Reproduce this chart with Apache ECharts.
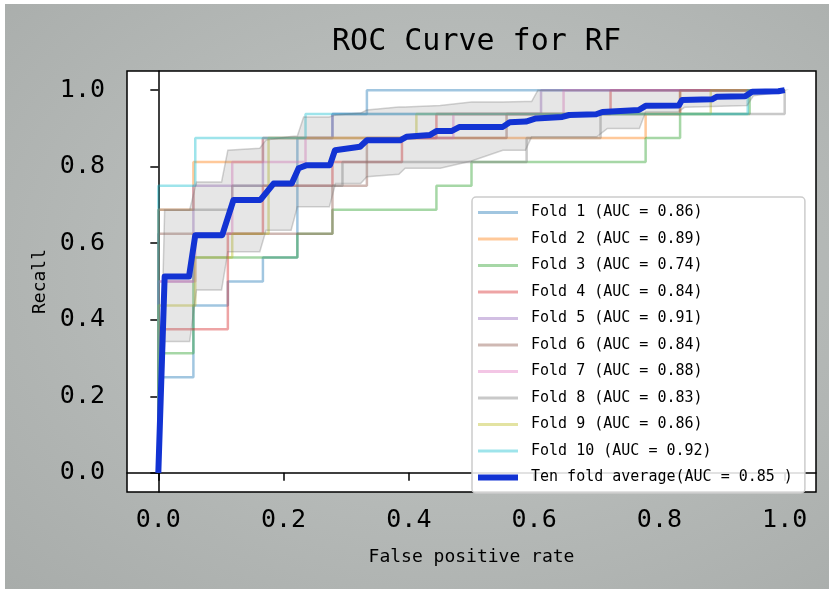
<!DOCTYPE html>
<html>
<head>
<meta charset="utf-8">
<script src="https://cdn.jsdelivr.net/npm/echarts@6/dist/echarts.min.js"></script>
<style>
  html, body { margin: 0; padding: 0; }
  #wrap {
    position: relative; width: 829px; height: 589px; box-sizing: border-box;
    border-top: 4px solid #fff; border-left: 5px solid #fff;
    background: radial-gradient(ellipse at 55% 45%, #c0c4c2 0%, #b6bab8 50%, #a8acaa 100%);
  }
  #chart { position: absolute; left: -5px; top: -4px; width: 829px; height: 589px; }
</style>
</head>
<body>
<div id="wrap"><div id="chart"></div></div>
<script>
// ROC corner points for each fold
const fold1Fpr = [0, 0, 0.056, 0.056, 0.111, 0.111, 0.167, 0.167, 0.222, 0.222, 0.278, 0.278, 0.333, 0.333, 1]
const fold1Tpr = [0, 0.25, 0.25, 0.4375, 0.4375, 0.5, 0.5, 0.5625, 0.5625, 0.875, 0.875, 0.9375, 0.9375, 1, 1]
const fold2Fpr = [0, 0, 0.056, 0.056, 0.167, 0.167, 0.778, 0.778, 0.833, 0.833, 1]
const fold2Tpr = [0, 0.6875, 0.6875, 0.8125, 0.8125, 0.875, 0.875, 0.9375, 0.9375, 1, 1]
const fold3Fpr = [0, 0, 0.056, 0.056, 0.222, 0.222, 0.278, 0.278, 0.444, 0.444, 0.5, 0.5, 0.778, 0.778, 0.833, 0.833, 0.944, 0.944, 1]
const fold3Tpr = [0, 0.3125, 0.3125, 0.5625, 0.5625, 0.625, 0.625, 0.6875, 0.6875, 0.75, 0.75, 0.8125, 0.8125, 0.875, 0.875, 0.9375, 0.9375, 1, 1]
const fold4Fpr = [0, 0, 0.111, 0.111, 0.167, 0.167, 0.278, 0.278, 0.389, 0.389, 0.444, 0.444, 0.722, 0.722, 1]
const fold4Tpr = [0, 0.375, 0.375, 0.625, 0.625, 0.75, 0.75, 0.8125, 0.8125, 0.875, 0.875, 0.9375, 0.9375, 1, 1]
const fold5Fpr = [0, 0, 0.056, 0.056, 0.167, 0.167, 0.278, 0.278, 0.611, 0.611, 1]
const fold5Tpr = [0, 0.5, 0.5, 0.75, 0.75, 0.875, 0.875, 0.9375, 0.9375, 1, 1]
const fold6Fpr = [0, 0, 0.278, 0.278, 0.333, 0.333, 0.556, 0.556, 0.833, 0.833, 1]
const fold6Tpr = [0, 0.625, 0.625, 0.75, 0.75, 0.875, 0.875, 0.9375, 0.9375, 1, 1]
const fold7Fpr = [0, 0, 0.059, 0.059, 0.118, 0.118, 0.235, 0.235, 0.471, 0.471, 0.647, 0.647, 1]
const fold7Tpr = [0, 0.5, 0.5, 0.625, 0.625, 0.8125, 0.8125, 0.875, 0.875, 0.9375, 0.9375, 1, 1]
const fold8Fpr = [0, 0, 0.118, 0.118, 0.294, 0.294, 0.588, 0.588, 0.706, 0.706, 1, 1]
const fold8Tpr = [0, 0.6875, 0.6875, 0.75, 0.75, 0.8125, 0.8125, 0.875, 0.875, 0.9375, 0.9375, 1]
const fold9Fpr = [0, 0, 0.059, 0.059, 0.118, 0.118, 0.176, 0.176, 0.412, 0.412, 0.882, 0.882, 1]
const fold9Tpr = [0, 0.4375, 0.4375, 0.5625, 0.5625, 0.625, 0.625, 0.875, 0.875, 0.9375, 0.9375, 1, 1]
const fold10Fpr = [0, 0, 0.059, 0.059, 0.235, 0.235, 0.941, 0.941, 1]
const fold10Tpr = [0, 0.75, 0.75, 0.875, 0.875, 0.9375, 0.9375, 1, 1]

const foldNames = ['Fold 1 (AUC = 0.86)', 'Fold 2 (AUC = 0.89)', 'Fold 3 (AUC = 0.74)', 'Fold 4 (AUC = 0.84)',
  'Fold 5 (AUC = 0.91)', 'Fold 6 (AUC = 0.84)', 'Fold 7 (AUC = 0.88)', 'Fold 8 (AUC = 0.83)',
  'Fold 9 (AUC = 0.86)', 'Fold 10 (AUC = 0.92)']
const meanName = 'Ten fold average(AUC = 0.85 )'

// ten fold average curve
const meanFpr = [0, 0.0101, 0.049, 0.059, 0.102, 0.120, 0.163, 0.184, 0.213, 0.224, 0.237, 0.274, 0.282, 0.322, 0.333, 0.386, 0.396, 0.434, 0.444, 0.468,
  0.481, 0.550, 0.561, 0.587, 0.603, 0.645, 0.656, 0.699, 0.709, 0.767, 0.778, 0.831, 0.836, 0.884, 0.892, 0.937, 0.948, 0.990, 1.0]
const meanTpr = [0, 0.513, 0.513, 0.621, 0.621, 0.713, 0.713, 0.756, 0.756, 0.796, 0.804, 0.804, 0.843, 0.852, 0.869, 0.869, 0.878, 0.883, 0.893, 0.893,
  0.904, 0.904, 0.916, 0.918, 0.926, 0.930, 0.935, 0.937, 0.943, 0.948, 0.959, 0.960, 0.974, 0.976, 0.983, 0.984, 0.996, 0.997, 1.0]

// +/- 1 std band
const bandFpr = [0, 0.0101, 0.050, 0.061, 0.101, 0.111, 0.162, 0.172, 0.212, 0.222, 0.232, 0.273, 0.283, 0.323, 0.333, 0.384, 0.394, 0.450, 0.500, 0.550,
  0.586, 0.596, 0.606, 0.700, 0.717, 0.768, 0.778, 0.830, 0.840, 0.940, 0.950, 0.990, 1.0]
const bandUpper = [0, 0.687, 0.687, 0.760, 0.760, 0.843, 0.848, 0.870, 0.879, 0.880, 0.930, 0.930, 0.935, 0.940, 0.948, 0.956, 0.956, 0.960, 0.969, 0.969,
  0.970, 0.970, 1, 1, 1, 1, 1, 1, 1, 1, 1, 1, 1]
const bandLower = [0, 0.343, 0.343, 0.478, 0.478, 0.578, 0.578, 0.634, 0.634, 0.695, 0.695, 0.695, 0.756, 0.756, 0.774, 0.780, 0.796, 0.796, 0.815, 0.843,
  0.843, 0.878, 0.878, 0.878, 0.900, 0.900, 0.943, 0.943, 0.955, 0.960, 0.985, 0.994, 1]

const xTicks = [0, 0.2, 0.4, 0.6, 0.8, 1.0]
const yTicks = [0, 0.2, 0.4, 0.6, 0.8, 1.0]

const foldColors = ['rgba(31,119,180,0.42)', 'rgba(255,127,14,0.42)', 'rgba(44,160,44,0.42)', 'rgba(214,39,40,0.42)',
  'rgba(148,103,189,0.42)', 'rgba(140,86,75,0.42)', 'rgba(227,119,194,0.42)', 'rgba(127,127,127,0.42)',
  'rgba(188,189,34,0.42)', 'rgba(23,190,207,0.42)']
const meanColor = '#1233d3'
const font = 'DejaVu Sans Mono'

const folds = [
  [fold1Fpr, fold1Tpr], [fold2Fpr, fold2Tpr], [fold3Fpr, fold3Tpr], [fold4Fpr, fold4Tpr], [fold5Fpr, fold5Tpr],
  [fold6Fpr, fold6Tpr], [fold7Fpr, fold7Tpr], [fold8Fpr, fold8Tpr], [fold9Fpr, fold9Tpr], [fold10Fpr, fold10Tpr]
]

function pairs(xs, ys) {
  return xs.map((x, i) => [x, ys[i]])
}

const series = folds.map((f, i) => ({
  name: foldNames[i],
  type: 'line',
  data: pairs(f[0], f[1]),
  symbol: 'none',
  color: foldColors[i],
  lineStyle: { width: 2.5, color: foldColors[i] },
  z: 2
}))

series.push({
  type: 'custom',
  coordinateSystem: 'cartesian2d',
  data: [[0, 0]],
  silent: true,
  z: 3,
  renderItem: function(params, api) {
    const pts = []
    for (let i = 0; i < bandFpr.length; i++) {
      pts.push(api.coord([bandFpr[i], bandUpper[i]]))
    }
    for (let i = bandFpr.length - 1; i >= 0; i--) {
      pts.push(api.coord([bandFpr[i], bandLower[i]]))
    }
    return {
      type: 'polygon',
      shape: { points: pts },
      style: { fill: 'rgba(128,128,128,0.2)', stroke: 'rgba(110,110,110,0.3)', lineWidth: 1.5 }
    }
  }
})

series.push({
  name: meanName,
  type: 'line',
  data: pairs(meanFpr, meanTpr),
  symbol: 'none',
  color: meanColor,
  lineStyle: { width: 6, color: meanColor, join: 'round' },
  z: 4
})

// legend swatches: thin bar for folds, thick bar for the average
const thinIcon = 'path://M0,0L40,0L40,3L0,3Z'
const thickIcon = 'path://M0,0L40,0L40,6L0,6Z'
const legendData = foldNames.map((n, i) => ({ name: n, icon: thinIcon, itemStyle: { color: foldColors[i] } }))
legendData.push({ name: meanName, icon: thickIcon, itemStyle: { color: meanColor } })

const chart = echarts.init(document.getElementById('chart'), null, { renderer: 'canvas' })
chart.setOption({
  animation: false,
  backgroundColor: 'transparent',
  title: {
    text: 'ROC Curve for RF',
    left: 471.5,
    textAlign: 'center',
    top: 22,
    textStyle: { fontFamily: font, fontSize: 30, fontWeight: 'normal', color: '#000' }
  },
  grid: {
    left: 127, top: 71, width: 689, height: 421,
    show: true, backgroundColor: '#fff', borderColor: '#000', borderWidth: 1.5
  },
  legend: {
    orient: 'vertical',
    left: 472,
    top: 197,
    padding: [8, 12, 8, 6],
    itemWidth: 40,
    itemHeight: 14,
    itemGap: 11.5,
    symbolKeepAspect: true,
    backgroundColor: 'rgba(255,255,255,0.85)',
    borderColor: '#cccccc',
    borderWidth: 1.5,
    borderRadius: 4,
    textStyle: { fontFamily: font, fontSize: 15, color: '#000', padding: [0, 0, 0, 8] },
    data: legendData
  },
  xAxis: {
    type: 'value',
    min: -0.05,
    max: 1.05,
    name: 'False positive rate',
    nameLocation: 'middle',
    nameGap: 56,
    nameTextStyle: { fontFamily: font, fontSize: 18, color: '#000' },
    axisLine: { show: true, lineStyle: { color: '#000', width: 1.5 } },
    axisTick: { show: true, length: 8, customValues: xTicks, lineStyle: { color: '#000', width: 1.5 } },
    axisLabel: {
      customValues: xTicks, margin: 16,
      fontFamily: font, fontSize: 25, color: '#000',
      formatter: v => v.toFixed(1)
    },
    splitLine: { show: false }
  },
  yAxis: {
    type: 'value',
    min: -0.05,
    max: 1.05,
    name: 'Recall',
    nameLocation: 'middle',
    nameGap: 78,
    nameTextStyle: { fontFamily: font, fontSize: 18, color: '#000' },
    axisLine: { show: true, lineStyle: { color: '#000', width: 1.5 } },
    axisTick: { show: true, length: 8, customValues: yTicks, lineStyle: { color: '#000', width: 1.5 } },
    axisLabel: {
      customValues: yTicks, margin: 22,
      fontFamily: font, fontSize: 25, color: '#000',
      formatter: v => v.toFixed(1)
    },
    splitLine: { show: false }
  },
  series: series
})
</script>
</body>
</html>
